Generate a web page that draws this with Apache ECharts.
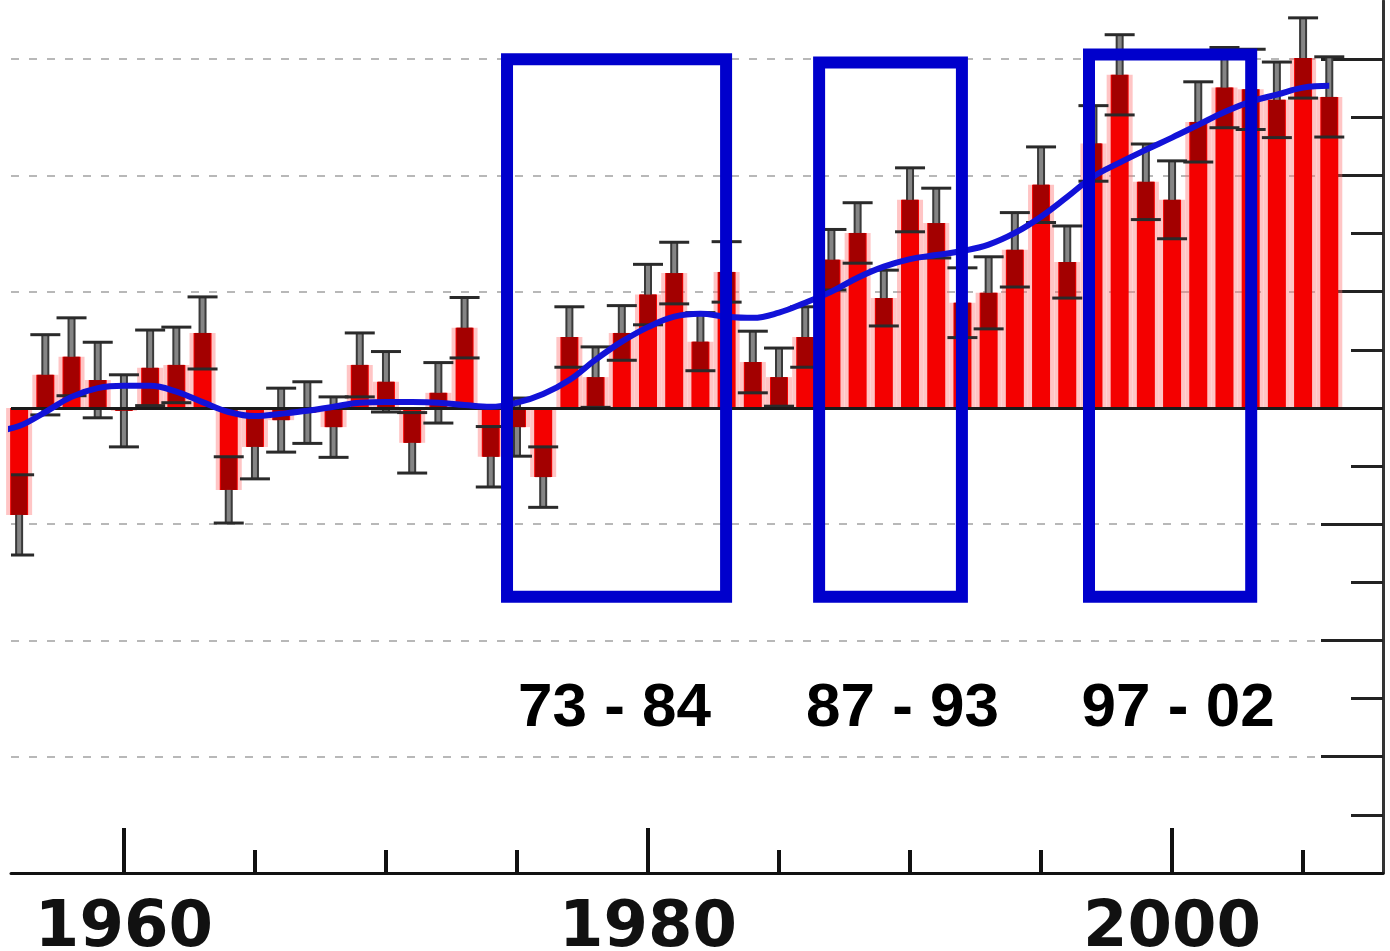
<!DOCTYPE html>
<html>
<head>
<meta charset="utf-8">
<title>Anomaly 1956-2006</title>
<script src="https://cdn.jsdelivr.net/npm/echarts@6.0.0/dist/echarts.min.js"></script>
<style>
html, body { margin: 0; padding: 0; background: #fff; }
#chart { width: 1390px; height: 951px; }
</style>
</head>
<body>
<div id="chart"></div>
<script>
//////////// data ////////////
var years = [1956, 1957, 1958, 1959, 1960, 1961, 1962, 1963, 1964, 1965,
	1966, 1967, 1968, 1969, 1970, 1971, 1972, 1973, 1974, 1975,
	1976, 1977, 1978, 1979, 1980, 1981, 1982, 1983, 1984, 1985,
	1986, 1987, 1988, 1989, 1990, 1991, 1992, 1993, 1994, 1995,
	1996, 1997, 1998, 1999, 2000, 2001, 2002, 2003, 2004, 2005, 2006];

// yearly anomaly (bars)
var anomaly = [-0.184, 0.057, 0.088, 0.048, -0.005, 0.069, 0.074, 0.129, -0.141, -0.067,
	-0.021, -0.008, -0.033, 0.074, 0.045, -0.060, 0.026, 0.138, -0.084, -0.033,
	-0.119, 0.122, 0.053, 0.129, 0.195, 0.232, 0.114, 0.234, 0.079, 0.053,
	0.122, 0.255, 0.301, 0.189, 0.358, 0.318, 0.181, 0.198, 0.272, 0.384,
	0.251, 0.455, 0.573, 0.389, 0.358, 0.492, 0.551, 0.548, 0.530, 0.602, 0.535];

// half length of each error bar
var errHalf = [0.069, 0.069, 0.067, 0.065, 0.062, 0.065, 0.065, 0.062, 0.057, 0.055,
	0.055, 0.053, 0.052, 0.055, 0.052, 0.052, 0.052, 0.052, 0.052, 0.050,
	0.052, 0.052, 0.052, 0.047, 0.052, 0.053, 0.050, 0.052, 0.053, 0.050,
	0.052, 0.052, 0.052, 0.048, 0.055, 0.060, 0.060, 0.062, 0.064, 0.065,
	0.062, 0.065, 0.069, 0.065, 0.067, 0.069, 0.069, 0.069, 0.065, 0.069, 0.069];

// smoothed curve
var smoothYears = [1955, 1956, 1957, 1958, 1959, 1960, 1961, 1962, 1963, 1964, 1965,
	1966, 1967, 1968, 1969, 1970, 1971, 1972, 1973, 1974, 1975,
	1976, 1977, 1978, 1979, 1980, 1981, 1982, 1983, 1984, 1985,
	1986, 1987, 1988, 1989, 1990, 1991, 1992, 1993, 1994, 1995,
	1996, 1997, 1998, 1999, 2000, 2001, 2002, 2003, 2004, 2005, 2006];
var smoothValues = [-0.041, -0.031, -0.007, 0.019, 0.034, 0.038, 0.038, 0.028, 0.010, -0.007, -0.014,
	-0.010, -0.005, 0.002, 0.009, 0.010, 0.010, 0.009, 0.005, 0.002, 0.009,
	0.024, 0.048, 0.083, 0.114, 0.139, 0.157, 0.162, 0.157, 0.155, 0.164,
	0.181, 0.200, 0.224, 0.243, 0.256, 0.263, 0.270, 0.281, 0.301, 0.329,
	0.363, 0.398, 0.422, 0.444, 0.465, 0.487, 0.509, 0.527, 0.539, 0.551, 0.554];

// tick values
var xMajorTicks = [1960, 1980, 2000];
var xMinorTicks = [1965, 1970, 1975, 1985, 1990, 1995, 2005];
var yMajorTicks = [-0.6, -0.4, -0.2, 0, 0.2, 0.4, 0.6];
var yMinorTicks = [-0.7, -0.5, -0.3, -0.1, 0.1, 0.3, 0.5];

// highlighted periods
var boxLabels = ['73 - 84', '87 - 93', '97 - 02'];
var boxStart = [1974.62, 1986.53, 1996.83];
var boxEnd = [1982.98, 1991.98, 2003.02];
var boxTop = [0.600, 0.594, 0.608];
var boxBottom = [-0.325, -0.325, -0.325];
var boxLabelShift = [-2, 12, 8];

//////////// build ////////////
var xMin = 1955.69, xMax = 2008.05;
var yMin = -0.8, yMax = 0.7;

function $each(arr, fn) {
	for (var i = 0; i < arr.length; i++) fn(i, arr[i]);
}

var barData = [];
var errData = [];
$each(years, function(i, y) {
	barData.push([y, anomaly[i]]);
	errData.push([y, anomaly[i], errHalf[i]]);
});
var smoothData = [];
$each(smoothYears, function(i, y) {
	smoothData.push([y, smoothValues[i]]);
});

var boxes = [];
$each(boxLabels, function(i, txt) {
	boxes.push([
		{ name: txt, xAxis: boxStart[i], yAxis: boxTop[i], label: { offset: [boxLabelShift[i], 0] } },
		{ xAxis: boxEnd[i], yAxis: boxBottom[i] }
	]);
});

// error bar: gray stem, dark red where it runs through the bar, caps on both ends
function renderErrorBar(params, api) {
	var x = api.value(0), v = api.value(1), e = api.value(2);
	var hi = api.coord([x, v + e]);
	var lo = api.coord([x, v - e]);
	var children = [
		{ type: 'line', shape: { x1: hi[0], y1: hi[1], x2: lo[0], y2: lo[1] }, style: { stroke: '#3a3a3a', lineWidth: 8 } },
		{ type: 'line', shape: { x1: hi[0], y1: hi[1], x2: lo[0], y2: lo[1] }, style: { stroke: '#858585', lineWidth: 4 } }
	];
	var inHi = Math.min(v + e, Math.max(v, 0));
	var inLo = Math.max(v - e, Math.min(v, 0));
	if (inHi > inLo) {
		var a = api.coord([x, inHi]), b = api.coord([x, inLo]);
		children.push({ type: 'rect', shape: { x: a[0] - 8, y: a[1], width: 16, height: b[1] - a[1] }, style: { fill: '#a30000' } });
	}
	children.push({ type: 'line', shape: { x1: hi[0] - 15, y1: hi[1], x2: hi[0] + 15, y2: hi[1] }, style: { stroke: '#2a2a2a', lineWidth: 3 } });
	children.push({ type: 'line', shape: { x1: lo[0] - 15, y1: lo[1], x2: lo[0] + 15, y2: lo[1] }, style: { stroke: '#2a2a2a', lineWidth: 3 } });
	return { type: 'group', children: children };
}

//////////// chart ////////////
var chart = echarts.init(document.getElementById('chart'));

var option = {
	animation: false,
	backgroundColor: '#ffffff',
	grid: { left: 11, right: 7, top: 1, bottom: 78, containLabel: false, outerBoundsMode: 'none' },
	xAxis: [
		{
			type: 'value', position: 'bottom', min: xMin, max: xMax,
			axisLine: { show: true, onZero: false, lineStyle: { color: '#111', width: 3 } },
			axisTick: { show: true, inside: true, length: 45, customValues: xMajorTicks, lineStyle: { color: '#111', width: 4 } },
			axisLabel: {
				customValues: xMajorTicks, margin: 24,
				formatter: function(v) { return String(v); },
				fontFamily: 'DejaVu Sans', fontWeight: 'bold', fontSize: 64, color: '#111'
			},
			splitLine: { show: false }
		},
		{
			type: 'value', position: 'bottom', min: xMin, max: xMax,
			axisLine: { show: false, onZero: false },
			axisTick: { show: true, inside: true, length: 23, customValues: xMinorTicks, lineStyle: { color: '#111', width: 4 } },
			axisLabel: { show: false },
			splitLine: { show: false }
		}
	],
	yAxis: [
		{
			type: 'value', position: 'right', min: yMin, max: yMax,
			axisLine: { show: true, onZero: false, lineStyle: { color: '#333', width: 3 } },
			axisTick: { show: true, inside: true, length: 62, customValues: yMajorTicks, lineStyle: { color: '#222', width: 3 } },
			axisLabel: { show: false },
			splitLine: { show: true, lineStyle: { color: '#b8b8b8', width: 2, type: [8, 10] } }
		},
		{
			type: 'value', position: 'right', min: yMin, max: yMax,
			axisLine: { show: false, onZero: false },
			axisTick: { show: true, inside: true, length: 32, customValues: yMinorTicks, lineStyle: { color: '#222', width: 3 } },
			axisLabel: { show: false },
			splitLine: { show: false }
		}
	],
	series: [
		{
			// soft halo between bars
			name: 'halo', type: 'bar', xAxisIndex: 1, yAxisIndex: 0,
			data: barData, barWidth: 26, silent: true, z: 1, clip: true,
			itemStyle: { color: 'rgba(255,110,110,0.4)' }
		},
		{
			name: 'anomaly', type: 'bar', xAxisIndex: 0, yAxisIndex: 0,
			data: barData, barWidth: 18, silent: true, z: 2, clip: true,
			itemStyle: { color: '#f40000' },
			markLine: {
				silent: true, z: 4, symbol: ['none', 'none'],
				label: { show: false },
				lineStyle: { color: '#1a1a1a', width: 3, type: 'solid' },
				data: [{ yAxis: 0 }]
			}
		},
		{
			name: 'error', type: 'custom', xAxisIndex: 0, yAxisIndex: 0,
			data: errData, renderItem: renderErrorBar, silent: true, z: 3, clip: true
		},
		{
			name: 'smooth', type: 'line', xAxisIndex: 0, yAxisIndex: 0,
			data: smoothData, smooth: 0.4, symbol: 'none', silent: true, z: 5,
			lineStyle: { color: '#1212d8', width: 6 },
			markArea: {
				silent: true, z: 10,
				itemStyle: { color: 'rgba(0,0,0,0)', borderColor: '#0000cc', borderWidth: 12 },
				label: {
					show: true, position: 'bottom', distance: 75,
					fontFamily: 'Liberation Sans', fontWeight: 'bold', fontSize: 62, color: '#000'
				},
				data: boxes
			}
		}
	]
};

chart.setOption(option);
</script>
</body>
</html>
